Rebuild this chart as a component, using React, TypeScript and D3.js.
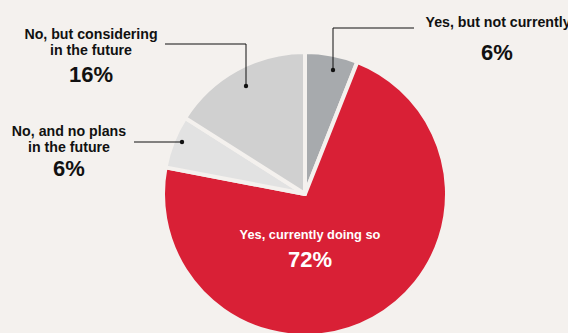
import React from "react";
import * as d3 from "d3";

const categories = ["Yes, but not currently", "Yes, currently doing so", "No, and no plans in the future", "No, but considering in the future"];
const values = [6, 72, 6, 16];
const colors = ["#a7aaad", "#d92036", "#e2e2e2", "#d0d0d0"];

const W = 568;
const H = 333;
const BG = "#f4f1ee";
const FONT = "'Liberation Sans', Arial, Helvetica, sans-serif";

export default function App() {
  const cx = 305;
  const cy = 194;
  const r = 142;
  const pie = d3.pie<number>().sort(null).value((d) => d)(values);
  const arc = d3.arc<d3.PieArcDatum<number>>().innerRadius(0).outerRadius(r);

  return (
    <svg width={W} height={H} style={{ position: "absolute", left: 0, top: 0, background: BG }}>
      <rect x={0} y={0} width={W} height={H} fill={BG} />
      <g transform={`translate(${cx},${cy})`}>
        {pie.map((p, i) => (
          <path key={i} d={arc(p) || ""} fill={colors[i]} stroke={BG} strokeWidth={4} strokeLinejoin="round" />
        ))}
      </g>
      <g stroke="#111" strokeWidth={1} fill="none">
        <polyline points="333,70 333,28 414,28" />
        <polyline points="165,44 246,44 246,86" />
        <polyline points="134,142 182,142" />
      </g>
      <g fill="#111">
        <circle cx={333} cy={70} r={2.2} />
        <circle cx={246} cy={86} r={2.2} />
        <circle cx={182} cy={142} r={2.2} />
      </g>
      <g fontFamily={FONT} fontWeight="bold" textAnchor="middle" fill="#111">
        <text x={498} y={27} fontSize={14.2}>{categories[0]}</text>
        <text x={497} y={60} fontSize={22}>{values[0]}%</text>

        <text x={91} y={39} fontSize={14.2}>No, but considering</text>
        <text x={91} y={55} fontSize={14.2}>in the future</text>
        <text x={91} y={82} fontSize={22}>{values[3]}%</text>

        <text x={69} y={136} fontSize={14.2}>No, and no plans</text>
        <text x={69} y={152} fontSize={14.2}>in the future</text>
        <text x={69} y={176} fontSize={22}>{values[2]}%</text>

        <text x={310} y={239} fontSize={12.8} fill="#fff">{categories[1]}</text>
        <text x={310} y={267} fontSize={22} fill="#fff">{values[1]}%</text>
      </g>
    </svg>
  );
}
